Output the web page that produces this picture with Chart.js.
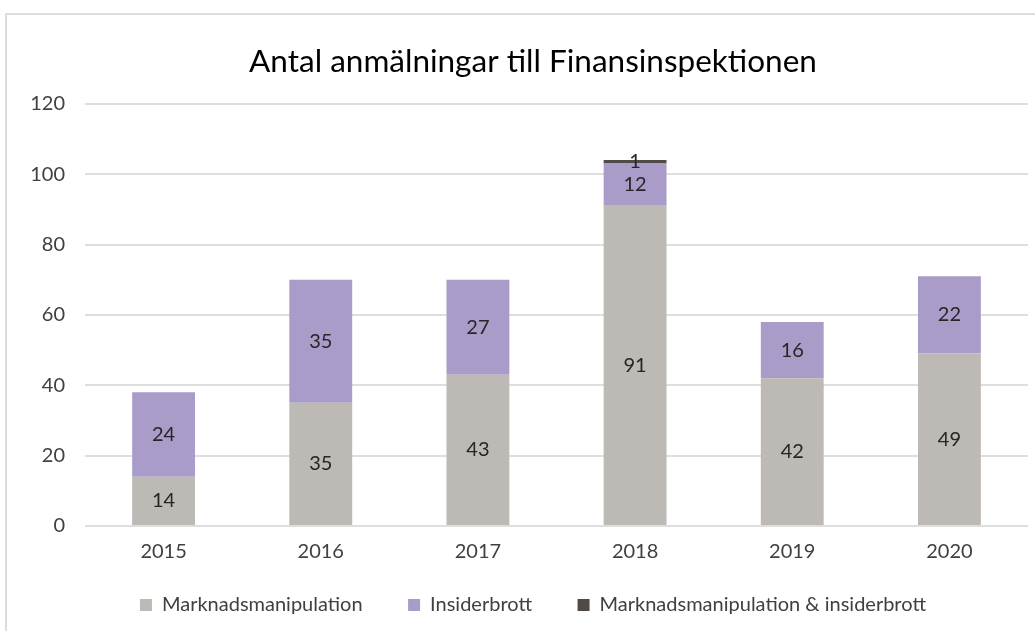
<!DOCTYPE html>
<html>
<head>
<meta charset="utf-8">
<script src="https://cdn.jsdelivr.net/npm/chart.js@4"></script>
<style>
  body { margin: 0; background: #fff; }
  .wrap { position: relative; width: 1035px; height: 631px; overflow: hidden; }
  .frame { position: absolute; left: 5px; top: 13px; width: 1100px; height: 700px; border: 2px solid #dcdcdc; }
  canvas { position: absolute; left: 0; top: 0; }
</style>
</head>
<body>
<div class="wrap">
  <div class="frame"></div>
  <canvas id="chart" width="1035" height="631"></canvas>
</div>
<script type="text/javascript">
  const years = ["2015", "2016", "2017", "2018", "2019", "2020"];
  const marknadsmanipulation = [14, 35, 43, 91, 42, 49];
  const insiderbrott = [24, 35, 27, 12, 16, 22];
  const bada = [0, 0, 0, 1, 0, 0];
  const yTicks = [0, 20, 40, 60, 80, 100, 120];

  const font = "Lato, 'Open Sans', sans-serif";

  // skriver värdet mitt i varje stapelsegment
  const segmentLabels = {
    id: "segmentLabels",
    afterDatasetsDraw(chart) {
      const ctx = chart.ctx;
      ctx.save();
      ctx.font = "20px " + font;
      ctx.fillStyle = "#262626";
      ctx.textAlign = "center";
      ctx.textBaseline = "middle";
      chart.data.datasets.forEach((ds, i) => {
        chart.getDatasetMeta(i).data.forEach((bar, j) => {
          const v = ds.data[j];
          if (!v) return;
          ctx.fillText(String(v), bar.x, (bar.y + bar.base) / 2);
        });
      });
      ctx.restore();
    }
  };

  new Chart("chart", {
    type: "bar",
    data: {
      labels: years,
      datasets: [
        { label: "Marknadsmanipulation", data: marknadsmanipulation, backgroundColor: "#bdb9b4" },
        { label: "Insiderbrott", data: insiderbrott, backgroundColor: "#a99cc9" },
        { label: "Marknadsmanipulation & insiderbrott", data: bada, backgroundColor: "#504b47" }
      ]
    },
    plugins: [segmentLabels],
    options: {
      responsive: false,
      animation: false,
      datasets: { bar: { categoryPercentage: 1, barPercentage: 0.4, borderWidth: 0 } },
      layout: { padding: { left: 38, right: 7, top: 43, bottom: 6 } },
      plugins: {
        title: {
          display: true,
          text: "Antal anmälningar till Finansinspektionen",
          color: "#000",
          font: { family: font, size: 31.5, weight: "normal" },
          padding: { top: 0, bottom: 23 }
        },
        legend: {
          position: "bottom",
          labels: {
            color: "#404040",
            font: { family: font, size: 20 },
            boxWidth: 12,
            boxHeight: 12,
            padding: 25,
            // lite extra luft mellan posterna
            generateLabels: chart => {
              const items = Chart.defaults.plugins.legend.labels.generateLabels(chart);
              items.forEach((it, i) => { if (i < items.length - 1) it.text += "    "; });
              return items;
            }
          }
        },
        tooltip: { enabled: false }
      },
      scales: {
        x: {
          stacked: true,
          grid: { display: false, drawTicks: false },
          border: { display: false },
          afterFit: s => { s.height = 44; },
          ticks: { color: "#404040", font: { family: font, size: 20 }, padding: 14 }
        },
        y: {
          stacked: true,
          min: 0,
          max: 120,
          afterBuildTicks: s => { s.ticks = yTicks.map(v => ({ value: v })); },
          afterFit: s => {
            s.width = 47;
            s._computeLabelArea = () => undefined; // etiketterna får gå utanför vänsterkanten
          },
          grid: { color: "#dedede", lineWidth: 2, drawTicks: false },
          border: { display: false },
          ticks: { color: "#404040", font: { family: font, size: 20 }, padding: 20 }
        }
      }
    }
  });
</script>
</body>
</html>
